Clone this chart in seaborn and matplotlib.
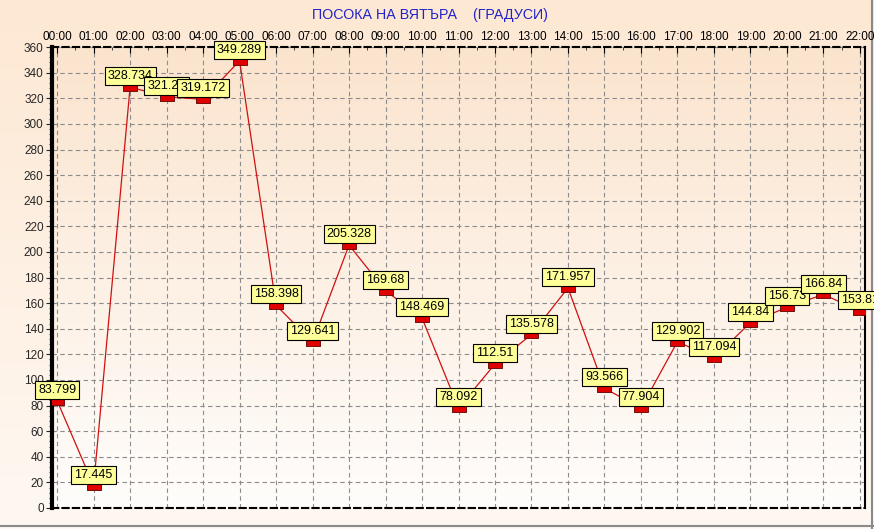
import numpy as np
import matplotlib
matplotlib.use("Agg")
import matplotlib.pyplot as plt
from matplotlib.ticker import MultipleLocator
import seaborn as sns

# data
hours = ["00:00", "01:00", "02:00", "03:00", "04:00", "05:00", "06:00", "07:00",
         "08:00", "09:00", "10:00", "11:00", "12:00", "13:00", "14:00", "15:00",
         "16:00", "17:00", "18:00", "19:00", "20:00", "21:00", "22:00"]
direction = [83.799, 17.445, 328.734, 321.21, 319.172, 349.289, 158.398, 129.641,
             205.328, 169.68, 148.469, 78.092, 112.51, 135.578, 171.957, 93.566,
             77.904, 129.902, 117.094, 144.84, 156.73, 166.84, 153.81]
labels = ["83.799", "17.445", "328.734", "321.21", "319.172", "349.289", "158.398",
          "129.641", "205.328", "169.68", "148.469", "78.092", "112.51", "135.578",
          "171.957", "93.566", "77.904", "129.902", "117.094", "144.84", "156.73",
          "166.84", "153.81"]
pos = np.arange(len(hours))

sns.set_style("white")
plt.rcParams["font.family"] = ["Liberation Sans", "DejaVu Sans"]

fig = plt.figure(figsize=(8.74, 5.29), dpi=100)

# soft peach background for the whole figure
bg = fig.add_axes([0, 0, 1, 1], zorder=-10)
grad = np.linspace(0, 1, 256).reshape(-1, 1)
bg.imshow(grad, aspect="auto", cmap=matplotlib.colors.LinearSegmentedColormap.from_list(
    "bgc", ["#fde8d3", "#fff8f2"]), extent=[0, 1, 1, 0])
bg.set_axis_off()
# grey frame at right/bottom
bg.plot([0.9977, 0.9977], [0.0, 1.0], color="#8a8a8a", lw=1.5, transform=bg.transAxes)
bg.plot([0, 1], [0.0055, 0.0055], color="#8a8a8a", lw=1.5, transform=bg.transAxes)
bg.set_xlim(0, 1)
bg.set_ylim(1, 0)

ax = fig.add_axes([0.0595, 0.0397, 0.9302, 0.8713])
ax.patch.set_alpha(0)
ax.imshow(grad, aspect="auto", origin="upper", cmap=matplotlib.colors.LinearSegmentedColormap.from_list(
    "axc", ["#fbe4ce", "#fffdfb"]), extent=[-0.14, 22.14, 0, 360], zorder=0)

sns.lineplot(x=pos, y=direction, ax=ax, color="#d01010", lw=0.9, zorder=3)

rect = [(-1, -0.55), (1, -0.55), (1, 0.55), (-1, 0.55), (-1, -0.55)]
ax.plot(pos, direction, ls="none", marker=rect, markersize=9.5,
        markerfacecolor="#e00000", markeredgecolor="#600000", markeredgewidth=0.6, zorder=4)

for x, y, t in zip(pos, direction, labels):
    ax.annotate(t, (x, y), xytext=(0, 3.5), textcoords="offset points",
                ha="center", va="bottom", fontsize=9, zorder=5, color="black",
                bbox=dict(boxstyle="square,pad=0.24", fc="#ffff99", ec="black", lw=0.8))

ax.set_xlim(-0.14, 22.14)
ax.set_ylim(0, 360)
ax.set_xticks(pos)
ax.set_xticklabels(hours)
ax.set_yticks(np.arange(0, 361, 20))
ax.yaxis.set_minor_locator(MultipleLocator(4))
ax.xaxis.set_minor_locator(MultipleLocator(0.5))
ax.xaxis.tick_top()
ax.tick_params(axis="x", which="major", top=True, bottom=False, length=4, direction="in",
               labelsize=8.5, pad=3, colors="black")
ax.tick_params(axis="x", which="minor", top=True, bottom=False, length=2, direction="in")
ax.tick_params(axis="y", which="major", left=True, length=4, direction="out",
               labelsize=8.5, pad=2)
ax.tick_params(axis="y", which="minor", left=True, length=2, width=0.6, direction="out")

ax.grid(True, which="major", color="#8c8c8c", ls=(0, (4, 3)), lw=0.8)
ax.set_axisbelow(True)

ax.spines["left"].set_linewidth(3)
ax.spines["left"].set_color("black")
ax.spines["right"].set_linewidth(1.5)
ax.spines["right"].set_color("black")
for s in ["top", "bottom"]:
    ax.spines[s].set_linewidth(1.5)
    ax.spines[s].set_color("black")
    ax.spines[s].set_linestyle((0, (3, 2)))

fig.text(0.492, 0.972, "ПОСОКА НА ВЯТЪРА    (ГРАДУСИ)", color="#2323c8",
         fontsize=10.3, ha="center", va="center")

fig.savefig("out.png", dpi=100)
